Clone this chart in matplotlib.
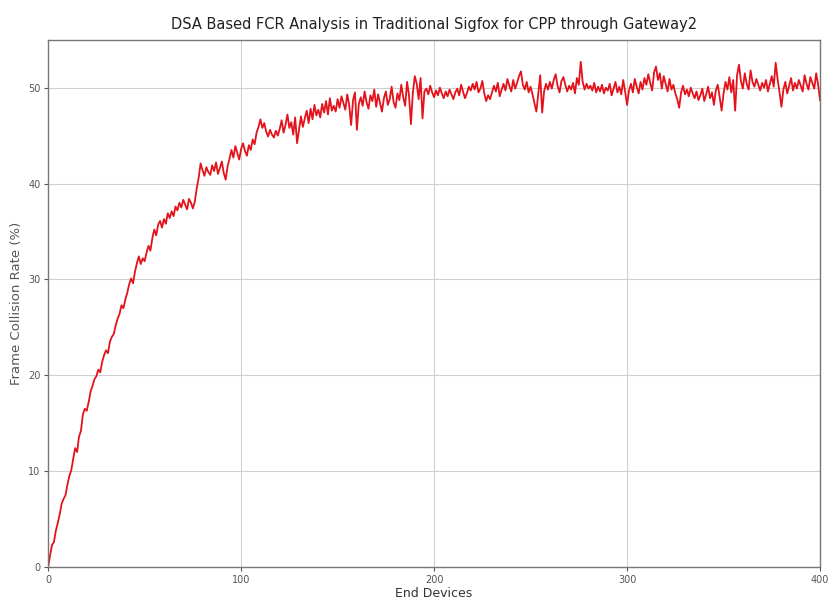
import matplotlib
matplotlib.use("Agg")
import matplotlib.pyplot as plt
import numpy as np

end_devices = list(range(0, 401))
fcr = [
    0.0, 1.2, 2.3, 2.6, 3.8, 4.6, 5.5, 6.6, 7.1, 7.5,
    8.6, 9.5, 10.1, 11.3, 12.4, 12.0, 13.6, 14.2, 15.9, 16.5,
    16.3, 17.2, 18.3, 18.9, 19.6, 19.9, 20.6, 20.3, 21.4, 22.1,
    22.6, 22.3, 23.5, 24.0, 24.3, 25.2, 25.9, 26.4, 27.3, 27.0,
    27.9, 28.6, 29.5, 30.1, 29.6, 30.8, 31.7, 32.4, 31.6, 32.2,
    31.9, 32.8, 33.5, 33.0, 34.3, 35.2, 34.6, 35.7, 36.1, 35.4,
    36.3, 35.8, 36.9, 36.4, 37.1, 36.6, 37.6, 37.2, 38.0, 37.5,
    38.3, 37.8, 37.3, 38.4, 38.0, 37.4, 38.1, 39.5, 40.6, 42.1,
    41.4, 40.8, 41.7, 41.2, 40.9, 41.9, 41.3, 42.2, 41.0, 41.6,
    42.3, 41.1, 40.4, 41.8, 42.6, 43.5, 42.7, 43.9, 43.2, 42.5,
    43.6, 44.2, 43.4, 42.9, 44.0, 43.5, 44.6, 44.1, 45.3, 45.9,
    46.7, 45.8, 46.3, 45.4, 44.9, 45.6, 45.1, 44.8, 45.5, 45.0,
    45.7, 46.6, 45.3, 46.1, 47.2, 45.8, 46.4, 45.1, 46.9, 44.2,
    45.6, 47.0, 45.9, 46.8, 47.6, 46.3, 47.8, 46.7, 48.2, 47.1,
    47.7, 46.9, 48.3, 47.4, 48.6, 47.2, 48.9, 47.6, 48.1, 47.5,
    48.8, 47.9, 49.1, 48.4, 47.7, 49.3, 48.2, 46.1, 48.7, 49.5,
    45.6, 48.3, 49.0, 48.1, 49.6, 48.5, 47.8, 49.2, 48.6, 49.8,
    48.0, 49.3, 48.4, 47.5, 48.9, 49.6, 48.2, 48.8, 50.1, 48.5,
    47.9, 49.4, 48.7, 50.3, 49.0, 48.1, 50.6, 49.2, 46.2, 49.5,
    51.2, 50.4, 48.8, 51.0, 46.8, 49.6, 49.9, 49.3, 50.2, 49.5,
    49.0, 49.7, 49.2, 50.0, 49.4, 48.9, 49.6, 49.1, 49.8, 49.3,
    48.8, 49.5, 49.9, 49.2, 50.3, 49.6, 48.9, 49.4, 50.1, 49.7,
    50.4, 49.8, 50.6, 49.5, 49.9, 50.7, 49.4, 48.6, 49.2, 48.8,
    49.5, 50.2, 49.6, 50.5, 49.1, 49.8, 50.4, 49.7, 50.9, 50.2,
    49.6, 50.8, 49.9, 50.5, 51.2, 51.7, 50.3, 49.8, 50.6, 49.5,
    50.1, 49.3, 48.4, 47.5, 49.4, 51.3, 47.4, 49.6, 50.4, 49.8,
    50.6, 49.9, 50.8, 51.4, 50.2, 49.5, 50.7, 51.1, 50.3, 49.6,
    50.2, 49.8, 50.5, 49.4, 51.0, 50.3, 52.7, 50.6, 49.8, 50.4,
    49.9, 50.2, 49.7, 50.5, 49.5, 50.1, 49.6, 50.3, 49.4, 50.0,
    49.7, 50.4, 49.2, 49.9, 50.6, 49.5, 50.1, 49.3, 50.8, 49.6,
    48.2, 49.7, 50.4, 49.5, 50.9, 50.1, 49.4, 50.6, 49.8, 51.0,
    50.3, 51.4, 50.5, 49.7, 51.6, 52.2, 50.8, 51.5, 49.9, 51.2,
    50.4, 49.6, 50.9, 49.8, 50.3, 49.4, 48.8, 47.9, 49.5, 50.2,
    49.3, 49.8, 49.1, 50.0, 49.4, 48.9, 49.6, 48.7, 49.2, 49.9,
    48.6, 49.3, 50.1, 48.9, 49.5, 48.2, 49.7, 50.3, 49.0, 47.6,
    49.4, 50.6, 49.8, 51.1, 49.5, 50.8, 47.6, 51.3, 52.4, 50.7,
    49.9, 51.5, 50.4, 49.8, 51.8, 50.6, 50.1, 50.9, 50.3, 49.7,
    50.5, 50.0, 50.8, 49.6, 50.4, 51.2, 50.1, 52.6, 50.9, 49.5,
    48.0, 49.8, 50.6, 49.4, 50.2, 51.0, 49.7, 50.5, 49.9, 50.8,
    50.2, 49.6, 51.3, 50.4, 49.8, 51.1, 50.5, 49.9, 51.5, 50.3,
    48.7,
]
x_ticks = [0, 100, 200, 300, 400]
y_ticks = [0, 10, 20, 30, 40, 50]

fig = plt.figure(figsize=(8.3, 6.11), dpi=100)
ax = fig.add_axes([0.058, 0.072, 0.930, 0.863])
ax.plot(end_devices, fcr, color="#e3121b", linewidth=1.3)
ax.set_xlim(0, 400)
ax.set_ylim(0, 55)
ax.set_xticks(x_ticks)
ax.set_yticks(y_ticks)
ax.grid(True, color="#cfcfcf", linewidth=0.8)
for s in ax.spines.values():
    s.set_color("#777777")
    s.set_linewidth(1.0)
ax.tick_params(labelsize=7, colors="#555555", length=3, pad=2.5)
ax.set_title("DSA Based FCR Analysis in Traditional Sigfox for CPP through Gateway2",
             fontsize=10.5, color="#222222", pad=8)
ax.set_xlabel("End Devices", fontsize=9, color="#333333", labelpad=2)
ax.set_ylabel("Frame Collision Rate (%)", fontsize=9.5, color="#555555")
ax.yaxis.set_label_coords(-0.033, 0.5)
fig.savefig("out.png", dpi=100)
